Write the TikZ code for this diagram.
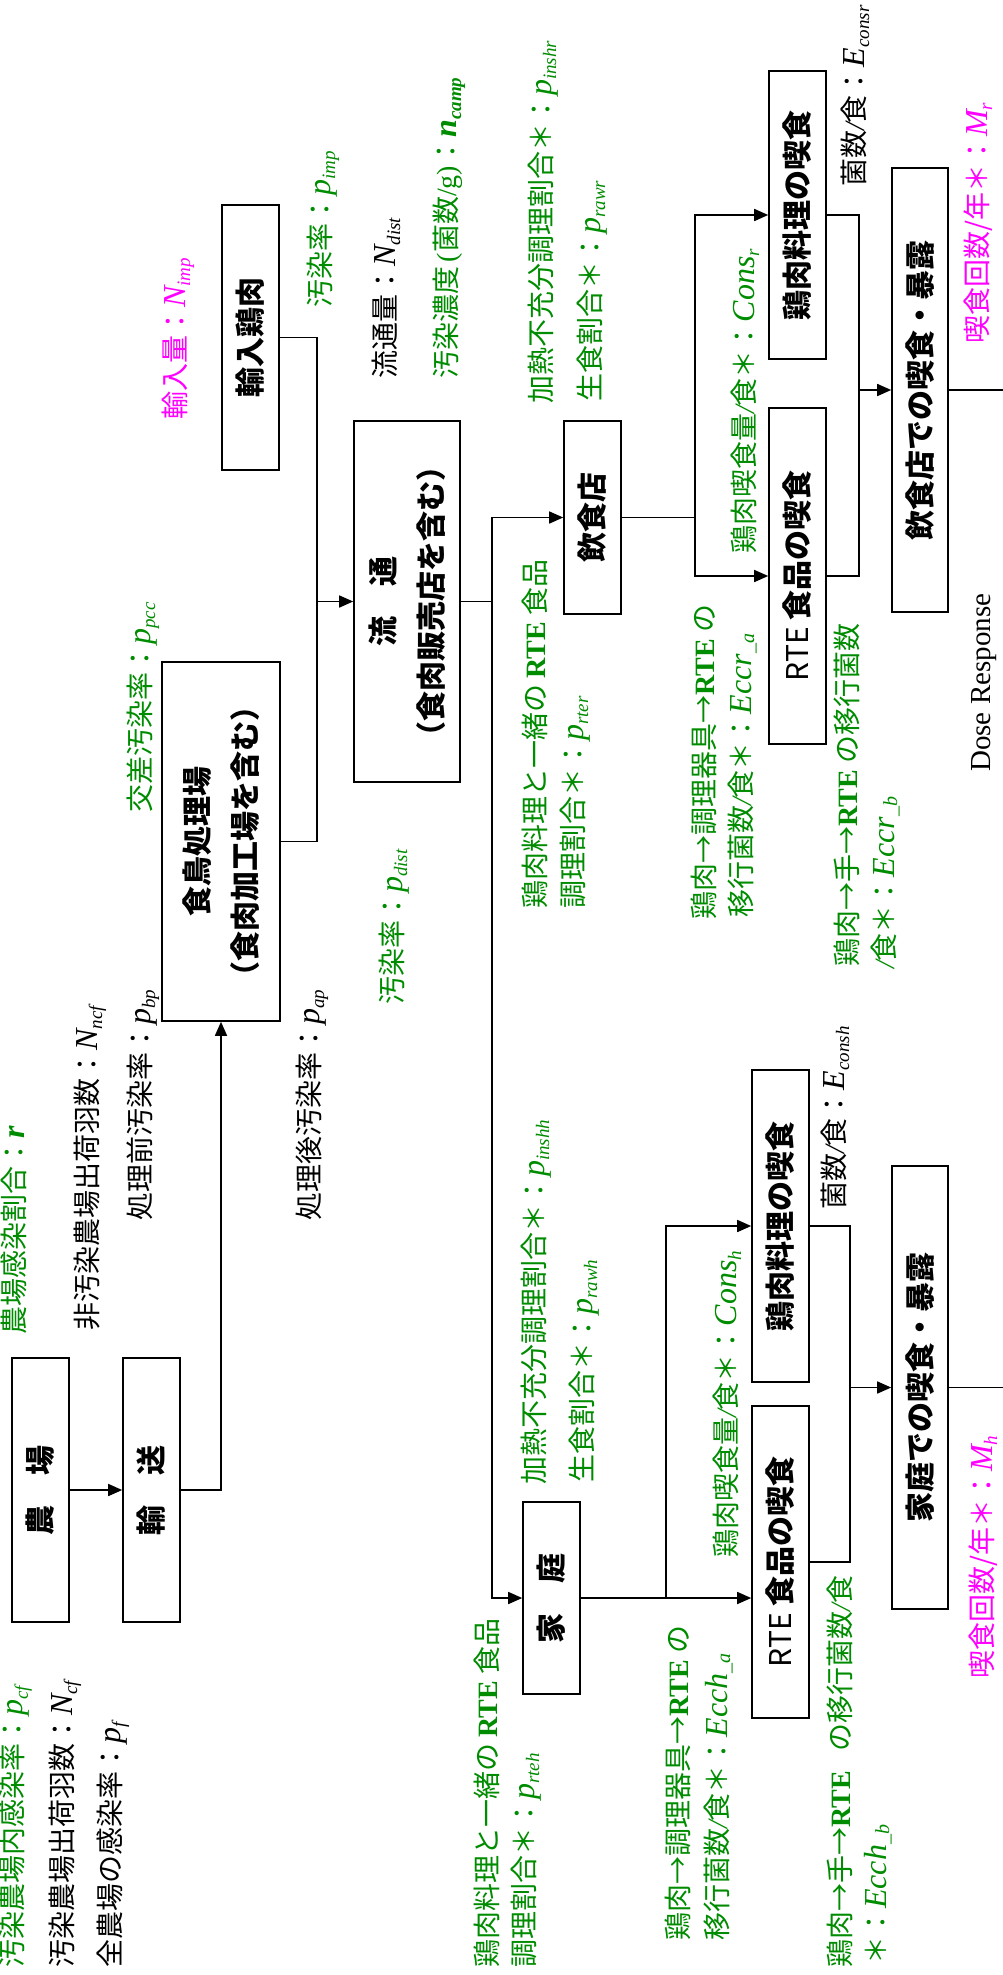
\documentclass[tikz,border=0pt]{standalone}
\usepackage{fontspec}
\setmainfont{Liberation Serif}
\newfontfamily\jp{Noto Sans CJK JP}
\newfontfamily\tms{Liberation Serif}
\usetikzlibrary{arrows.meta}
\definecolor{lgreen}{RGB}{0,140,0}
\definecolor{lmag}{RGB}{255,0,255}
\newcommand\pv[2]{{\tms\itshape\fontsize{32}{32}\selectfont #1\raisebox{-5pt}{\fontsize{19}{19}\selectfont #2}}}
\newcommand\ev[2]{{\tms\itshape\fontsize{32}{32}\selectfont #1\raisebox{-3pt}{\fontsize{20}{20}\selectfont\_#2}}}
\newcommand\rte{{\tms\bfseries RTE}}
\newcommand\isl{{\tms\itshape /}}
\tikzset{
  box/.style={draw, line width=1.6pt, rotate=90, inner sep=0pt, align=center,
    font=\jp\bfseries\fontsize{30}{48}\selectfont},
  lbl/.style={rotate=90, anchor=base west, inner sep=0pt,
    font=\jp\fontsize{28}{32}\selectfont},
  gl/.style={lbl, text=lgreen},
  ml/.style={lbl, text=lmag},
  ln/.style={line width=1.6pt},
  arr/.style={-{Triangle[length=14pt,width=12pt]}}
}
\begin{document}
\begin{tikzpicture}[x=1pt,y=-1pt]
\useasboundingbox (0,0) rectangle (1003,1975);
\fill[white] (0,0) rectangle (1003,1975);
% boxes
\node[box, minimum width=264pt, minimum height=57pt] (farm) at (40.5,1490) {農\hspace{30pt}場};
\node[box, minimum width=264pt, minimum height=57pt] (trans) at (151.5,1490) {輸\hspace{30pt}送};
\node[box, minimum width=359pt, minimum height=118pt] (proc) at (221,841.5) {食鳥処理場\\（食肉加工場を含む）};
\node[box, minimum width=265pt, minimum height=57pt] (imp) at (250.5,337.5) {輸入鶏肉};
\node[box, minimum width=361pt, minimum height=106pt] (dist) at (407,601.5) {流\hspace{30pt}通\\（食肉販売店を含む）};
\node[box, minimum width=193pt, minimum height=57pt] (rest) at (592.5,517.5) {飲食店};
\node[box, minimum width=192pt, minimum height=57pt] (home) at (551.5,1598) {家\hspace{30pt}庭};
\node[box, minimum width=288pt, minimum height=57pt] (chickR) at (797.5,215) {鶏肉料理の喫食};
\node[box, minimum width=336pt, minimum height=57pt] (rteR) at (797.5,576) {{\mdseries RTE} 食品の喫食};
\node[box, minimum width=444pt, minimum height=56pt] (expR) at (920,390) {飲食店での喫食・暴露};
\node[box, minimum width=312pt, minimum height=57pt] (chickH) at (780.5,1226) {鶏肉料理の喫食};
\node[box, minimum width=312pt, minimum height=57pt] (rteH) at (780.5,1562) {{\mdseries RTE} 食品の喫食};
\node[box, minimum width=443pt, minimum height=56pt] (expH) at (920,1387.5) {家庭での喫食・暴露};
% junctions
\coordinate (j1) at (317,601.5);
\coordinate (j2) at (492,601.5);
\coordinate (j3) at (695,517.5);
\coordinate (j4) at (859,390);
\coordinate (j5) at (666,1598);
\coordinate (j6) at (850,1387.5);
\coordinate (endR) at (1003,390);
\coordinate (endH) at (1003,1387.5);
% connectors
\draw[ln,arr] (farm.south) -- (trans.north);
\draw[ln,arr] (trans.south) -| (proc.west);
\draw[ln] (imp.south) -| (j1);
\draw[ln] (proc.south) -| (j1);
\draw[ln,arr] (j1) -- (dist.north);
\draw[ln] (dist.south) -- (j2);
\draw[ln,arr] (j2) |- (rest.north);
\draw[ln,arr] (j2) |- (home.north);
\draw[ln] (rest.south) -- (j3);
\draw[ln,arr] (j3) |- (chickR.north);
\draw[ln,arr] (j3) |- (rteR.north);
\draw[ln] (chickR.south) -| (j4);
\draw[ln] (rteR.south) -| (j4);
\draw[ln,arr] (j4) -- (expR.north);
\draw[ln] (expR.south) -- (endR);
\draw[ln,arr] (home.south) -- (rteH.north |- home.south);
\draw[ln,arr] (j5) |- (chickH.north);
\draw[ln] (chickH.south) -| (j6);
\draw[ln] (rteH.south) -| (j6);
\draw[ln,arr] (j6) -- (expH.north);
\draw[ln] (expH.south) -- (endH);
% labels
\node[ml] (nimp) at (185,420) {輸入量：\pv{N}{imp}};
\node[gl] (pimp) at (330,308) {汚染率：\pv{p}{imp}};
\node[lbl] (ndist) at (395,379) {流通量：\pv{N}{dist}};
\node[gl] (ncamp) at (456,379) {汚染濃度\,{\tms (}菌数{\tms /g)}：\pv{\bfseries n}{camp}};
\node[gl] (ppcc) at (150,813) {交差汚染率：\pv{p}{pcc}};
\node[gl] (pinshr) at (551,404) {加熱不充分調理割合＊：\pv{p}{inshr}};
\node[gl] (prawr) at (600,402) {生食割合＊：\pv{p}{rawr}};
\node[gl] (consr) at (754,554) {鶏肉喫食量\isl 食＊：\pv{Cons}{r}};
\node[lbl] (econsr) at (864,187) {菌数\isl 食：\pv{E}{consr}};
\node[ml] (mr) at (987,344) {喫食回数/年＊：\pv{M}{r}};
\node[lbl, font=\tms\fontsize{29}{34}\selectfont] (dose) at (990,772) {Dose Response};
\node[gl] (prter1) at (545,909) {鶏肉料理と一緒の \rte\ 食品};
\node[gl] (prter2) at (583,909) {調理割合＊：\pv{p}{rter}};
\node[gl] (eccra1) at (714,920) {鶏肉→調理器具→\rte\ の};
\node[gl] (eccra2) at (751,918) {移行菌数\isl 食＊：\ev{Eccr}{a}};
\node[gl] (eccrb1) at (857,967) {鶏肉→手→\rte\ の移行菌数};
\node[gl] (eccrb2) at (894,969) {\isl 食＊：\ev{Eccr}{b}};
\node[gl] (rr) at (24,1335) {農場感染割合：{\tms\bfseries\itshape\fontsize{32}{32}\selectfont r}};
\node[lbl] (nncf) at (97,1331) {非汚染農場出荷羽数：\pv{N}{ncf}};
\node[lbl] (pbp) at (150,1221) {処理前汚染率：\pv{p}{bp}};
\node[lbl] (pap) at (319,1221) {処理後汚染率：\pv{p}{ap}};
\node[gl] (pdist) at (402,1005) {汚染率：\pv{p}{dist}};
\node[gl] (pcf) at (23,1968) {汚染農場内感染率：\pv{p}{cf}};
\node[lbl] (ncf) at (72,1968) {汚染農場出荷羽数：\pv{N}{cf}};
\node[lbl] (pf) at (120,1968) {全農場の感染率：\pv{p}{f}};
\node[gl] (prteh1) at (497,1968) {鶏肉料理と一緒の \rte\ 食品};
\node[gl] (prteh2) at (534,1968) {調理割合＊：\pv{p}{rteh}};
\node[gl] (pinshh) at (544,1485) {加熱不充分調理割合＊：\pv{p}{inshh}};
\node[gl] (prawh) at (592,1483) {生食割合＊：\pv{p}{rawh}};
\node[gl] (consh) at (736,1558) {鶏肉喫食量\isl 食＊：\pv{Cons}{h}};
\node[lbl] (econsh) at (844,1210) {菌数\isl 食：\pv{E}{consh}};
\node[gl] (eccha1) at (688,1941) {鶏肉→調理器具→\rte\ の};
\node[gl] (eccha2) at (727,1941) {移行菌数\isl 食＊：\ev{Ecch}{a}};
\node[gl] (ecchb1) at (850,1968) {鶏肉→手→\rte\hspace{20pt}の移行菌数\isl 食};
\node[gl] (ecchb2) at (886,1965) {＊：\ev{Ecch}{b}};
\node[ml] (mh) at (992,1679) {喫食回数/年＊：\pv{M}{h}};
\end{tikzpicture}
\end{document}
